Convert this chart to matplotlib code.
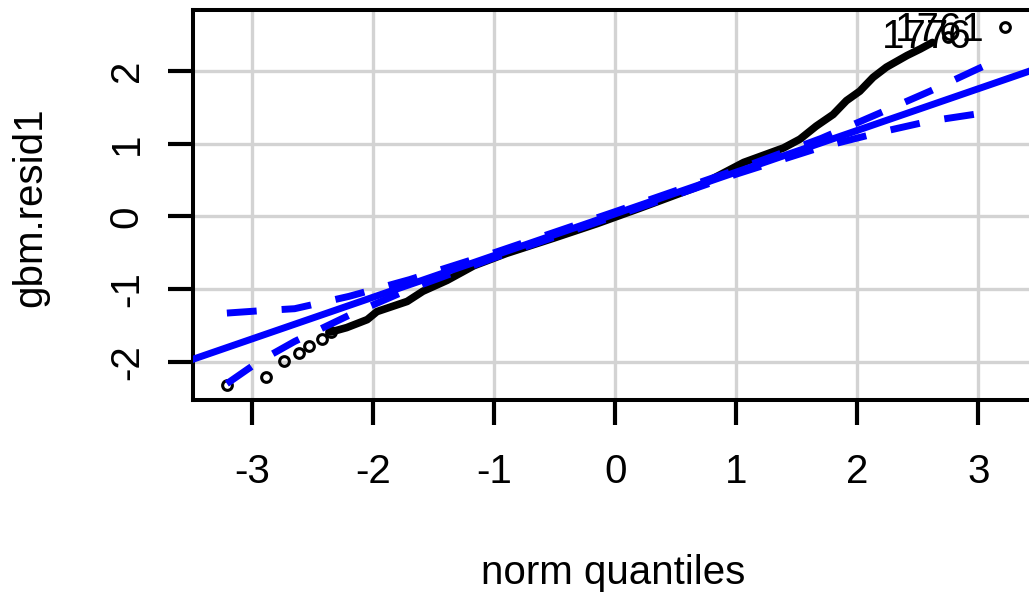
import matplotlib
matplotlib.use("Agg")
import matplotlib.pyplot as plt

# qq plot of gbm.resid1
# dense part of the point cloud (markers overlap into a band)
dense_q = [-2.35, -2.22, -2.05, -1.97, -1.72, -1.59, -1.39, -1.17, -0.90, -0.51,
           -0.15, 0.20, 0.67, 1.06, 1.39, 1.525, 1.66, 1.80, 1.91, 2.02,
           2.13, 2.24, 2.41, 2.52, 2.62]
dense_r = [-1.59, -1.53, -1.42, -1.31, -1.17, -1.03, -0.88, -0.68, -0.51, -0.30,
           -0.10, 0.11, 0.40, 0.74, 0.94, 1.06, 1.24, 1.40, 1.59, 1.72,
           1.91, 2.05, 2.21, 2.30, 2.39]
# single points in the tails
tail_q = [-3.21, -2.89, -2.74, -2.61, -2.535, -2.42, -2.35, 2.75, 3.22]
tail_r = [-2.32, -2.21, -1.99, -1.88, -1.78, -1.68, -1.59, 2.47, 2.60]

# reference line and pointwise envelope
line_a = 0.035
line_b = 0.573
env_q = [-3.21, -2.95, -2.65, -2.2, -1.7, -1.0, 0.0, 1.0, 1.7, 2.2, 2.6, 3.0, 3.12]
env_hi = [-1.33, -1.30, -1.27, -1.10, -0.87, -0.50, 0.065, 0.64, 1.07, 1.43, 1.72, 2.03, 2.12]
env_lo = [-2.30, -2.00, -1.72, -1.36, -1.00, -0.57, 0.005, 0.58, 0.95, 1.16, 1.31, 1.41, 1.41]

# labelled observations (the 1776 point sits under the text)
id_labels = ["1776", "1761"]
id_q = [2.90, 3.22]
id_r = [2.51, 2.60]
id_dx = [5, -20]
id_dy = [-14, -14]

plt.rcParams["font.family"] = ["Liberation Sans", "DejaVu Sans"]
plt.rcParams["axes.unicode_minus"] = False
fs = 29

fig = plt.figure(figsize=(10.29, 5.96), dpi=100)
ax = fig.add_axes([193 / 1029, 196 / 596, 857 / 1029, 390 / 596])

ax.plot(dense_q, dense_r, color="black", lw=5.5, solid_capstyle="round", zorder=2)
ax.plot(tail_q, tail_r, "o", mfc="none", mec="black", ms=7, mew=2.2, zorder=2)

ax.axline((0, line_a), slope=line_b, color="#0000FF", lw=5, zorder=3)
for env in (env_hi, env_lo):
    ax.plot(env_q, env, color="#0000FF", lw=5, dashes=(4.3, 3.6),
            dash_capstyle="butt", zorder=3)

for lab, q, r, dx, dy in zip(id_labels, id_q, id_r, id_dx, id_dy):
    ax.annotate(lab, (q, r), xytext=(dx, dy), textcoords="offset pixels",
                ha="right", va="baseline", fontsize=fs, color="black", zorder=4)

ax.set_xlim(-3.49, 3.592)
ax.set_ylim(-2.525, 2.836)
ax.set_xticks([-3, -2, -1, 0, 1, 2, 3])
ax.set_yticks([-2, -1, 0, 1, 2])
ax.grid(True, color="#D3D3D3", lw=2.4)
ax.set_axisbelow(True)

for side in ("left", "top", "bottom"):
    ax.spines[side].set_linewidth(2.9)
ax.spines["right"].set_visible(False)
ax.tick_params(length=18, width=3, labelsize=fs, colors="black")
ax.tick_params(axis="x", pad=20)
ax.tick_params(axis="y", pad=16)
for t in ax.get_yticklabels():
    t.set_rotation(90)
    t.set_va("center")

ax.set_xlabel("norm quantiles", fontsize=fs)
ax.xaxis.set_label_coords(0.49, -0.472)
ax.xaxis.label.set_va("baseline")
ax.set_ylabel("gbm.resid1", fontsize=fs)
ax.yaxis.set_label_coords(-0.19, 0.495)
ax.yaxis.label.set_va("center")

fig.savefig("out.png", dpi=100)
